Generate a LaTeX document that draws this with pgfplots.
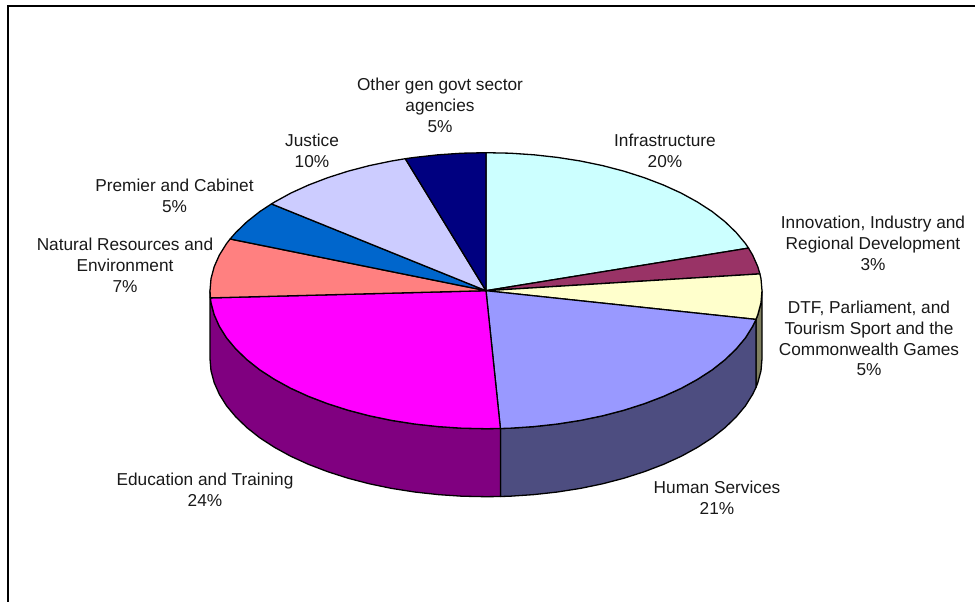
\documentclass[border=0pt]{standalone}
\usepackage{pgfplots}
\pgfplotsset{compat=1.18}
\usepackage{fontspec}
\setmainfont{Liberation Sans}
\definecolor{cInfra}{HTML}{CCFFFF}
\definecolor{cInnov}{HTML}{993366}
\definecolor{cDTF}{HTML}{FFFFCC}
\definecolor{cHS}{HTML}{9999FF}
\definecolor{cEdu}{HTML}{FF00FF}
\definecolor{cNR}{HTML}{FF8080}
\definecolor{cPC}{HTML}{0066CC}
\definecolor{cJust}{HTML}{CCCCFF}
\definecolor{cOther}{HTML}{000080}
\definecolor{wDTF}{HTML}{808060}
\definecolor{wHS}{HTML}{4D4D80}
\definecolor{wEdu}{HTML}{800080}
\tikzset{lbl/.style={align=center, font=\fontsize{17.25}{20.8}\selectfont, text=black!90, inner sep=0pt}}
\begin{document}
\begin{tikzpicture}[x=1pt,y=1pt]
\begin{axis}[
  scale only axis, width=975pt, height=602pt,
  xmin=0, xmax=975, ymin=0, ymax=602, y dir=reverse,
  hide axis,
  every axis plot/.append style={draw=black, line width=1.3pt, line join=round}
]
\path (rel axis cs:0,0) rectangle (rel axis cs:1,1);
% side walls
\addplot[fill=wDTF] coordinates {(762,290.7)(761,302.7)(757.8,314.7)(756,319.4)(756,387.4)(757.8,382.7)(761,370.7)(762,358.7)(762,290.7)};
\addplot[fill=wHS] coordinates {(756,319.4)(752.6,326.4)(745.4,337.9)(736.1,349)(725,359.7)(712.1,369.9)(697.4,379.4)(681.2,388.3)(663.4,396.4)(644.3,403.7)(624,410.2)(602.6,415.8)(580.4,420.4)(557.4,424)(533.9,426.6)(510.1,428.2)(500.4,428.5)
 (500.4,496.5)(510.1,496.2)(533.9,494.6)(557.4,492)(580.4,488.4)(602.6,483.8)(624,478.2)(644.3,471.7)(663.4,464.4)(681.2,456.3)(697.4,447.4)(712.1,437.9)(725,427.7)(736.1,417)(745.4,405.9)(752.6,394.4)(756,387.4)(756,319.4)};
\addplot[fill=wEdu] coordinates {(500.4,428.5)(486,428.7)(461.9,428.2)(438.1,426.6)(414.6,424)(391.6,420.4)(369.4,415.8)(348,410.2)(327.7,403.7)(308.6,396.4)(290.8,388.3)(274.6,379.4)(259.9,369.9)(247,359.7)(235.9,349)(226.6,337.9)(219.4,326.4)(214.2,314.7)(211,302.7)(210,290.7)
 (210,358.7)(211,370.7)(214.2,382.7)(219.4,394.4)(226.6,405.9)(235.9,417)(247,427.7)(259.9,437.9)(274.6,447.4)(290.8,456.3)(308.6,464.4)(327.7,471.7)(348,478.2)(369.4,483.8)(391.6,488.4)(414.6,492)(438.1,494.6)(461.9,496.2)(486,496.7)(500.4,496.5)(500.4,428.5)};
% top slices
\addplot[fill=cInfra] coordinates {(486,290.7)(486,152.7)(510.1,153.2)(533.9,154.8)(557.4,157.4)(580.4,161)(602.6,165.6)(624,171.2)(644.3,177.7)(663.4,185)(681.2,193.1)(697.4,202)(712.1,211.5)(725,221.7)(736.1,232.4)(745.4,243.5)(748.5,248.1)(486,290.7)};
\addplot[fill=cInnov] coordinates {(486,290.7)(748.5,248.1)(752.6,255)(757.8,266.7)(759.9,273.9)(486,290.7)};
\addplot[fill=cDTF] coordinates {(486,290.7)(759.9,273.9)(761,278.7)(762,290.7)(761,302.7)(757.8,314.7)(756,319.4)(486,290.7)};
\addplot[fill=cHS] coordinates {(486,290.7)(756,319.4)(752.6,326.4)(745.4,337.9)(736.1,349)(725,359.7)(712.1,369.9)(697.4,379.4)(681.2,388.3)(663.4,396.4)(644.3,403.7)(624,410.2)(602.6,415.8)(580.4,420.4)(557.4,424)(533.9,426.6)(510.1,428.2)(500.4,428.5)(486,290.7)};
\addplot[fill=cEdu] coordinates {(486,290.7)(500.4,428.5)(486,428.7)(461.9,428.2)(438.1,426.6)(414.6,424)(391.6,420.4)(369.4,415.8)(348,410.2)(327.7,403.7)(308.6,396.4)(290.8,388.3)(274.6,379.4)(259.9,369.9)(247,359.7)(235.9,349)(226.6,337.9)(219.4,326.4)(214.2,314.7)(211,302.7)(210.4,297.9)(486,290.7)};
\addplot[fill=cNR] coordinates {(486,290.7)(210.4,297.9)(210,290.7)(211,278.7)(214.2,266.7)(219.4,255)(226.6,243.5)(230.1,239)(486,290.7)};
\addplot[fill=cPC] coordinates {(486,290.7)(230.1,239)(235.9,232.4)(247,221.7)(259.9,211.5)(271.5,203.9)(486,290.7)};
\addplot[fill=cJust] coordinates {(486,290.7)(271.5,203.9)(274.6,202)(290.8,193.1)(308.6,185)(327.7,177.7)(348,171.2)(369.4,165.6)(391.6,161)(405.3,158.7)(486,290.7)};
\addplot[fill=cOther] coordinates {(486,290.7)(405.3,158.7)(414.6,157.4)(438.1,154.8)(461.9,153.2)(486,152.7)(486,290.7)};
% frame
\addplot[line width=2pt, line join=miter] coordinates {(7.5,602)(7.5,6)(975,6)};
% labels
\node[lbl] at (axis cs:440,105.5) {Other gen govt sector\\agencies\\5\%};
\node[lbl] at (axis cs:665,150.5) {Infrastructure\\20\%};
\node[lbl] at (axis cs:873,243.5) {Innovation, Industry and\\Regional Development\\3\%};
\node[lbl] at (axis cs:869,338.5) {DTF, Parliament, and\\Tourism Sport and the\\Commonwealth Games\\5\%};
\node[lbl] at (axis cs:717,498) {Human Services\\21\%};
\node[lbl] at (axis cs:205,490) {Education and Training\\24\%};
\node[lbl] at (axis cs:125,265.5) {Natural Resources and\\Environment\\7\%};
\node[lbl] at (axis cs:174.5,195.5) {Premier and Cabinet\\5\%};
\node[lbl] at (axis cs:312,150.5) {Justice\\10\%};
\end{axis}
\end{tikzpicture}
\end{document}
